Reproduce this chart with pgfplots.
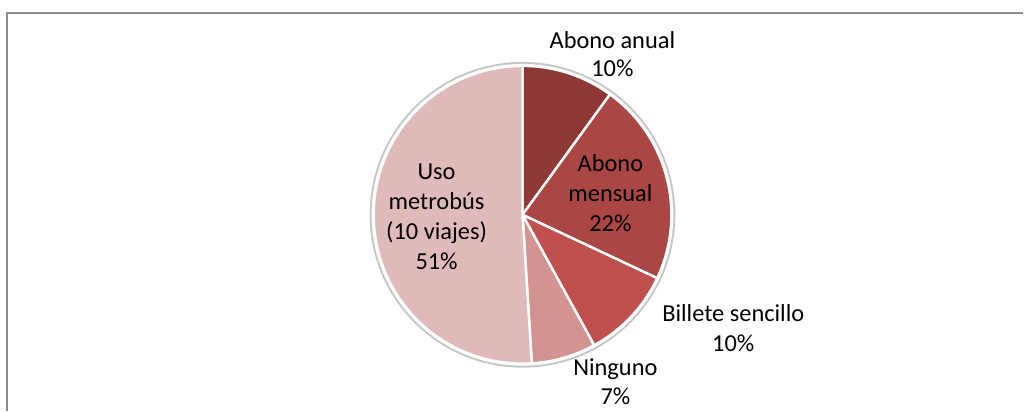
\documentclass[border=0pt]{standalone}
\usepackage{pgfplots}
\pgfplotsset{compat=1.18}
\usepackage{fontspec}
\setmainfont{Carlito}
\definecolor{cA}{HTML}{8F3937}
\definecolor{cB}{HTML}{AA4643}
\definecolor{cC}{HTML}{C0504D}
\definecolor{cD}{HTML}{D39391}
\definecolor{cE}{HTML}{E0BABA}
\definecolor{frame}{HTML}{8C8C8C}
% shares in percent, clockwise from the top
\def\pA{10}\def\pB{22}\def\pC{10}\def\pD{7}\def\pE{51}
\def\cx{523}\def\cy{196}\def\R{149}
\newcommand{\pieslice}[3]{% start%, end% (cumulative), colour
  \addplot[fill=#3, draw=white, line width=1.2pt, domain={90-3.6*#2}:{90-3.6*#1}, samples=60, variable=\t]
    ({\cx+\R*cos(\t)},{\cy+\R*sin(\t)}) -- (axis cs:\cx,\cy) -- cycle;
}
\begin{document}
\begin{tikzpicture}
\begin{axis}[
  scale only axis, width=512pt, height=205.5pt,
  xmin=0, xmax=1024, ymin=0, ymax=411,
  hide axis, clip=false,
]
\path (axis cs:0,0) (axis cs:1024,411);
\draw[frame, line width=1pt] (axis cs:7,0) -- (axis cs:7,398) -- (axis cs:1024,398);
\fill[gray!45] (axis cs:\cx,\cy) circle[radius=76.5pt];
\fill[white] (axis cs:\cx,\cy) circle[radius=75.5pt];
\pgfmathsetmacro{\cAB}{\pA+\pB}
\pgfmathsetmacro{\cABC}{\pA+\pB+\pC}
\pgfmathsetmacro{\cABCD}{\pA+\pB+\pC+\pD}
\pieslice{0}{\pA}{cA}
\pieslice{\pA}{\cAB}{cB}
\pieslice{\cAB}{\cABC}{cC}
\pieslice{\cABC}{\cABCD}{cD}
\pieslice{\cABCD}{100}{cE}
\begin{scope}[every node/.style={font=\fontsize{12.2}{14.5}\selectfont, align=center, anchor=base, inner sep=0pt}]
\node at (axis cs:613,362) {Abono anual};
\node at (axis cs:613,334) {10\%};
\node at (axis cs:611,239) {Abono};
\node at (axis cs:611,209) {mensual};
\node at (axis cs:611,179) {22\%};
\node at (axis cs:437,231) {Uso};
\node at (axis cs:437,201) {metrobús};
\node at (axis cs:437,171) {(10 viajes)};
\node at (axis cs:437,141) {51\%};
\node at (axis cs:734,89) {Billete sencillo};
\node at (axis cs:734,59) {10\%};
\node at (axis cs:616,35) {Ninguno};
\node at (axis cs:616,6) {7\%};
\end{scope}
\end{axis}
\end{tikzpicture}
\end{document}
